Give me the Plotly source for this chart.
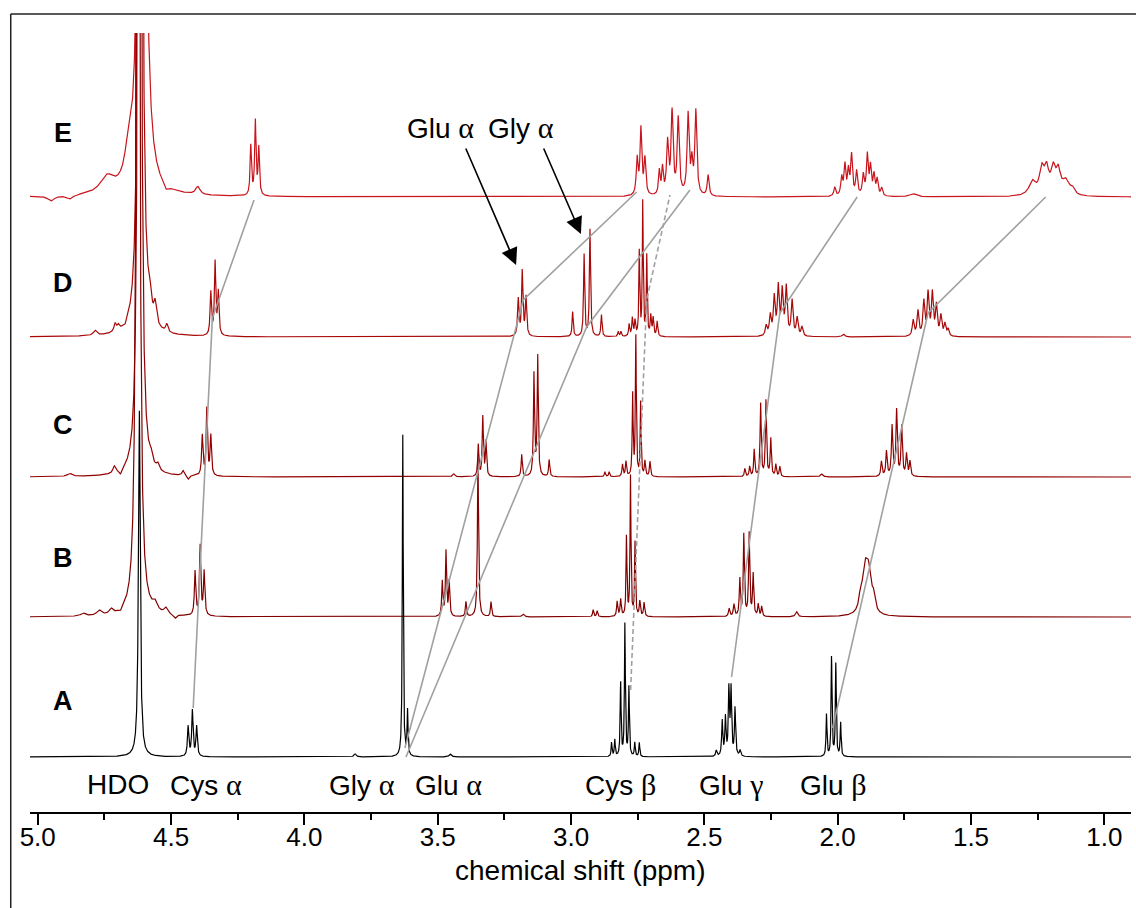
import numpy as np
import plotly.graph_objects as go

# ---------------------------------------------------------------
# 1H NMR spectra A-E (stacked), peak tables: shift (ppm), height, width (FWHM, ppm)
# ---------------------------------------------------------------
PPM_HI, PPM_LO = 5.029, 0.900
OFFSETS = [0, 140, 280, 420, 560]          # vertical stacking of A..E
NAMES = ["A", "B", "C", "D", "E"]

A_shift = [4.619, 4.436, 4.420, 4.404, 3.810, 3.631, 3.613, 3.453,
           2.848, 2.836, 2.814, 2.798, 2.783, 2.761, 2.744,
           2.455, 2.433, 2.421, 2.408, 2.400, 2.385, 2.366,
           2.042, 2.023, 2.007, 1.989]
A_height = [347, 30, 46, 30, 3, 322, 45, 3,
            14, 17, 74, 133, 69, 14, 14,
            6, 35, 38, 66, 66, 48, 6,
            42, 100, 93, 34]
A_width = [0.008, 0.006, 0.006, 0.006, 0.01, 0.004, 0.004, 0.01,
           0.004, 0.004, 0.004, 0.004, 0.004, 0.004, 0.004,
           0.006, 0.005, 0.005, 0.005, 0.005, 0.005, 0.006,
           0.004, 0.004, 0.004, 0.004]

B_shift = [4.830, 4.770, 4.725, 4.690, 4.624, 4.560, 4.520, 4.485,
           4.410, 4.391, 4.376,
           3.483, 3.469, 3.457, 3.394, 3.349, 3.300, 3.180,
           2.917, 2.902, 2.827, 2.814, 2.792, 2.777, 2.760, 2.742, 2.726,
           2.407, 2.389, 2.367, 2.352, 2.332, 2.317, 2.298, 2.285, 2.154,
           1.915, 1.898, 1.884, 1.866]
B_height = [3, 5, 5, -3, 2500, 8, 6, -4,
            44, 70, 44,
            35, 65, 35, 15, 160, 15, 3,
            7, 6, 15, 17, 80, 140, 74, 15, 14,
            8, 12, 37, 82, 83, 42, 12, 10, 5,
            12, 42, 36, 14]
B_width = [0.02, 0.02, 0.015, 0.01, 0.008, 0.02, 0.015, 0.012,
           0.006, 0.006, 0.006,
           0.005, 0.005, 0.005, 0.005, 0.005, 0.005, 0.01,
           0.005, 0.005, 0.005, 0.005, 0.004, 0.004, 0.004, 0.005, 0.005,
           0.006, 0.006, 0.005, 0.005, 0.005, 0.005, 0.005, 0.005, 0.01,
           0.012, 0.024, 0.022, 0.014]

C_shift = [4.880, 4.713, 4.690, 4.618, 4.575, 4.550, 4.455, 4.436,
           4.383, 4.366, 4.351,
           3.440, 3.348, 3.331, 3.319, 3.185, 3.139, 3.125, 3.082,
           2.873, 2.857, 2.807, 2.794, 2.769, 2.757, 2.739, 2.723, 2.704,
           2.348, 2.330, 2.313, 2.289, 2.269, 2.251, 2.232, 2.217, 2.060,
           1.836, 1.817, 1.796, 1.779, 1.760, 1.742, 1.729]
C_height = [3, 7, -5, 2500, 8, 6, 5, -4,
            40, 67, 40,
            3, 32, 60, 35, 22, 102, 120, 17,
            5, 5, 12, 15, 82, 140, 74, 15, 15,
            8, 10, 27, 73, 76, 38, 12, 10, 3,
            15, 25, 50, 66, 50, 22, 15]
C_width = [0.02, 0.012, 0.01, 0.008, 0.012, 0.012, 0.01, 0.01,
           0.006, 0.006, 0.006,
           0.01, 0.005, 0.005, 0.005, 0.005, 0.005, 0.005, 0.005,
           0.005, 0.005, 0.005, 0.005, 0.004, 0.004, 0.004, 0.005, 0.005,
           0.005, 0.005, 0.005, 0.005, 0.005, 0.005, 0.005, 0.005, 0.01,
           0.006, 0.006, 0.006, 0.006, 0.006, 0.006, 0.006]

D_shift = [4.785, 4.710, 4.698, 4.673, 4.615, 4.580, 4.560, 4.516,
           4.351, 4.335, 4.323,
           3.198, 3.183, 3.169, 2.994, 2.951, 2.929, 2.886, 2.823, 2.813,
           2.782, 2.770, 2.760, 2.744, 2.731, 2.716, 2.701, 2.692, 2.677,
           2.268, 2.253, 2.238, 2.223, 2.208, 2.193, 2.171, 2.152, 2.134,
           1.979,
           1.717, 1.699, 1.677, 1.661, 1.645, 1.630, 1.613, 1.598, 1.586]
D_height = [5, 8, 5, -3, 2500, 22, 20, 8,
            43, 73, 43,
            37, 65, 39, 25, 82, 107, 22, 5, 5,
            12, 18, 15, 84, 135, 80, 20, 18, 15,
            10, 20, 38, 48, 44, 48, 35, 18, 9,
            3,
            16, 25, 34, 42, 42, 30, 20, 12, 7]
D_width = [0.015, 0.01, 0.01, 0.008, 0.009, 0.012, 0.012, 0.01,
           0.006, 0.006, 0.006,
           0.006, 0.006, 0.006, 0.005, 0.005, 0.005, 0.005, 0.005, 0.005,
           0.005, 0.005, 0.005, 0.004, 0.004, 0.004, 0.005, 0.005, 0.005,
           0.008, 0.008, 0.008, 0.008, 0.008, 0.008, 0.008, 0.008, 0.008,
           0.01,
           0.008, 0.008, 0.008, 0.008, 0.008, 0.008, 0.008, 0.008, 0.008]

E_shift = [4.950, 4.880, 4.740, 4.660, 4.609, 4.520, 4.400,
           4.201, 4.184, 4.171,
           2.752, 2.738, 2.723, 2.669, 2.657,
           2.638, 2.621, 2.598, 2.561, 2.547, 2.532, 2.486,
           2.011, 1.985, 1.973, 1.960, 1.948, 1.929, 1.904, 1.889, 1.877,
           1.864, 1.852, 1.835, 1.717,
           1.270, 1.235, 1.217, 1.192, 1.173, 1.145, 1.120]
E_height = [-5, -4, 16, 28, 3000, -6, 8,
            50, 74, 47,
            36, 66, 36, 24, 26,
            52, 82, 76, 80, 30, 84, 21,
            9, 18, 30, 24, 40, 24, 20, 40, 28,
            20, 16, 8, 3,
            14, 24, 24, 24, 22, 14, 6]
E_width = [0.03, 0.03, 0.06, 0.03, 0.012, 0.02, 0.02,
           0.006, 0.006, 0.006,
           0.008, 0.008, 0.008, 0.007, 0.007,
           0.009, 0.009, 0.009, 0.009, 0.008, 0.009, 0.008,
           0.008, 0.008, 0.008, 0.008, 0.008, 0.008, 0.008, 0.008, 0.008,
           0.008, 0.008, 0.008, 0.03,
           0.03, 0.02, 0.02, 0.02, 0.02, 0.03, 0.02]

PEAKS = [(A_shift, A_height, A_width), (B_shift, B_height, B_width),
         (C_shift, C_height, C_width), (D_shift, D_height, D_width),
         (E_shift, E_height, E_width)]
COLORS = ["#000000", "#820000", "#930000", "#a80808", "#c8141c"]

# correlation lines: vertices (ppm, spectrum index, height above that baseline)
LINK_CYS_A_ppm = [4.417, 4.345, 4.189]
LINK_CYS_A_h = [49, 19, -3]
LINK_GLU_A_ppm = [3.623, 3.179, 2.754]
LINK_GLU_A_h = [9, 37, 5]
LINK_GLY_A_ppm = [3.619, 2.9415, 2.554]
LINK_GLY_A_h = [0, 10, 7]
LINK_CYS_B_ppm = [2.7765, 2.7165, 2.629]
LINK_CYS_B_h = [67, 37, 2]
LINK_GLU_G_ppm = [2.398, 2.217, 1.927]
LINK_GLU_G_h = [80, 24, 0]
LINK_GLU_B_ppm = [2.019, 1.661, 1.220]
LINK_GLU_B_h = [29, 24, 0]
LINK_LEVELS = [0, 3, 4]

# peak assignment labels under spectrum A
ASSIGN_TEXT = ["HDO", "Cys α", "Gly α", "Glu α", "Cys β", "Glu γ", "Glu β"]
ASSIGN_PPM = [4.699, 4.369, 3.784, 3.461, 2.813, 2.397, 2.014]

ppm = np.linspace(PPM_HI, PPM_LO, 9000)


def lorentz_sum(shifts, heights, widths):
    y = np.zeros_like(ppm)
    for p, h, w in zip(shifts, heights, widths):
        y += h / (1.0 + ((ppm - p) / (w / 2.0)) ** 2)
    return y


fig = go.Figure()

# spectra, E at the back and A in front
for i in reversed(range(5)):
    s, h, w = PEAKS[i]
    fig.add_trace(go.Scatter(x=ppm, y=lorentz_sum(s, h, w) + OFFSETS[i],
                             mode="lines", line=dict(color=COLORS[i], width=1.2),
                             hoverinfo="skip", showlegend=False))

GREY = "#a0a0a0"
links = [(LINK_CYS_A_ppm, LINK_CYS_A_h, "solid"),
         (LINK_GLU_A_ppm, LINK_GLU_A_h, "solid"),
         (LINK_GLY_A_ppm, LINK_GLY_A_h, "solid"),
         (LINK_CYS_B_ppm, LINK_CYS_B_h, "5px,3px"),
         (LINK_GLU_G_ppm, LINK_GLU_G_h, "solid"),
         (LINK_GLU_B_ppm, LINK_GLU_B_h, "solid")]
for lp, lh, dash in links:
    ly = [OFFSETS[k] + v for k, v in zip(LINK_LEVELS, lh)]
    fig.add_trace(go.Scatter(x=lp, y=ly, mode="lines",
                             line=dict(color=GREY, width=1.6, dash=dash),
                             hoverinfo="skip", showlegend=False))

SANS = "Liberation Sans, Arial, sans-serif"
SERIF = "Liberation Serif, Times New Roman, serif"


def greek(label):
    name, sym = label.split(" ")
    return f"{name} <span style='font-family:{SERIF}; font-size:30px'>{sym}</span>"


annotations = []
# spectrum letters
LETTER_Y = [56, 199, 332, 474, 624]
for name, yy in zip(NAMES, LETTER_Y):
    annotations.append(dict(x=4.905, y=yy, xref="x", yref="y", text=f"<b>{name}</b>",
                            showarrow=False, font=dict(family=SANS, size=27, color="black"),
                            xanchor="center", yanchor="middle"))

# assignment labels
for t, p in zip(ASSIGN_TEXT, ASSIGN_PPM):
    annotations.append(dict(x=p, y=-27, xref="x", yref="y",
                            text=(t if " " not in t else greek(t)),
                            showarrow=False, font=dict(family=SANS, size=28, color="black"),
                            xanchor="center", yanchor="middle"))

# arrows pointing at Glu α / Gly α in spectrum D
for txt, tx, tip_ppm, tip_y, tail_ppm in [("Glu α", 3.491, 3.206, 492, 3.397),
                                           ("Gly α", 3.188, 2.963, 523, 3.105)]:
    annotations.append(dict(x=tx, y=630, xref="x", yref="y", text=greek(txt),
                            showarrow=False, font=dict(family=SANS, size=28, color="black"),
                            xanchor="center", yanchor="middle"))
    annotations.append(dict(x=tip_ppm, y=tip_y, xref="x", yref="y",
                            ax=tail_ppm, ay=610, axref="x", ayref="y", text="",
                            showarrow=True, arrowhead=2, arrowsize=2.1, arrowwidth=1.6,
                            arrowcolor="black", standoff=0, startstandoff=0))

# axis title
annotations.append(dict(x=0.5, y=-0.0745, xref="paper", yref="paper",
                        text="chemical shift (ppm)", showarrow=False,
                        font=dict(family=SANS, size=28, color="black"),
                        xanchor="center", yanchor="middle"))

fig.update_layout(
    width=1136, height=908,
    margin=dict(l=30, r=5, t=33, b=96),
    paper_bgcolor="white", plot_bgcolor="white",
    annotations=annotations,
    shapes=[
        dict(type="line", xref="paper", yref="paper",
             x0=-0.0175, x1=-0.0175, y0=1.0244, y1=-0.13,
             line=dict(color="#222222", width=1.5)),
        dict(type="line", xref="paper", yref="paper",
             x0=-0.0175, x1=1.01, y0=1.0244, y1=1.0244,
             line=dict(color="#222222", width=1.5)),
    ],
    xaxis=dict(range=[PPM_HI, PPM_LO], showgrid=False, zeroline=False,
               showline=True, linecolor="black", linewidth=1.5,
               ticks="outside", ticklen=11, tickwidth=1.5, tickcolor="black",
               tick0=0, dtick=0.5, tickformat=".1f",
               ticklabelstandoff=-10,
               tickfont=dict(family=SANS, size=26, color="black"),
               minor=dict(dtick=0.25, tick0=0, ticks="outside", ticklen=6,
                          tickwidth=1.5, tickcolor="black", showgrid=False)),
    yaxis=dict(range=[-55, 724], visible=False, showgrid=False, zeroline=False),
)

fig.write_html("out.html")
